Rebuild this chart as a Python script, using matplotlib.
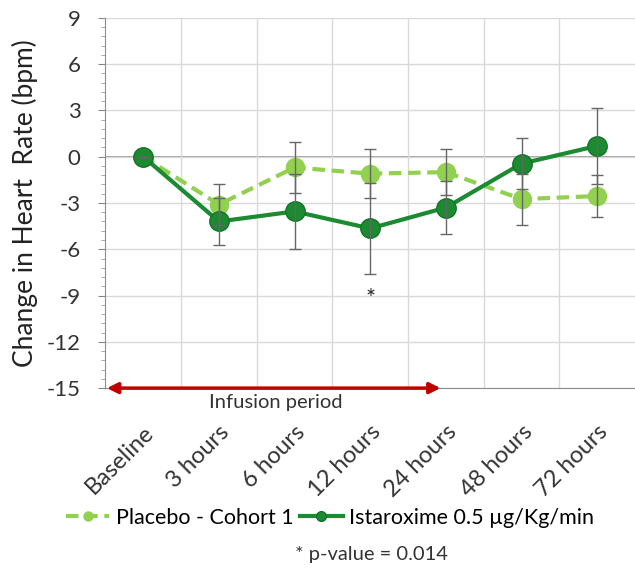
import matplotlib.pyplot as plt
from matplotlib.ticker import AutoMinorLocator
import numpy as np

plt.rcParams['font.family'] = ['Lato', 'DejaVu Sans']

timepoints = ["Baseline", "3 hours", "6 hours", "12 hours", "24 hours", "48 hours", "72 hours"]

placebo = [0, -3.1, -0.7, -1.1, -1.0, -2.75, -2.55]
placebo_err = [0, 1.3, 1.65, 1.6, 1.5, 1.65, 1.35]

istaroxime = [0, -4.2, -3.55, -4.65, -3.3, -0.45, 0.7]
istaroxime_err = [0, 1.55, 2.45, 2.95, 1.7, 1.65, 2.45]

light_green = "#92D050"
dark_green = "#1B8A30"

fig = plt.figure(figsize=(6.35, 5.75), dpi=100)
ax = fig.add_axes([0.166, 0.325, 0.834, 0.644])

x = np.arange(len(timepoints))

ax.plot(x, placebo, color=light_green, lw=3, ls=(0, (3, 1.6)), marker="o",
        ms=13, zorder=3, label="Placebo - Cohort 1")
ax.plot(x, istaroxime, color=dark_green, lw=3, marker="o", ms=14,
        mec="#15742a", zorder=4, label="Istaroxime 0.5 µg/Kg/min")

ax.errorbar(x, placebo, yerr=placebo_err, fmt="none", ecolor="#666666",
            elinewidth=1, capsize=4, capthick=1, zorder=5)
ax.errorbar(x, istaroxime, yerr=istaroxime_err, fmt="none", ecolor="#666666",
            elinewidth=1, capsize=4, capthick=1, zorder=5)

# significance marker at 12 hours
ax.text(3, -9.2, "*", ha="center", va="center", fontsize=17, color="#222222")

ax.set_xlim(-0.5, 6.5)
ax.set_ylim(-15, 9)
ax.yaxis.set_minor_locator(AutoMinorLocator(5))
ax.set_yticks(np.arange(-15, 10, 3))
ax.set_yticklabels([str(v) for v in range(-15, 10, 3)])
ax.set_xticks(x)
ax.set_xticklabels(timepoints, rotation=45, ha="right", rotation_mode="anchor")
ax.tick_params(axis="x", length=0, pad=24, labelsize=17, colors="#333333")
ax.tick_params(axis="y", which="major", length=5, width=0.8, color="#888888",
               labelsize=16, colors="#333333", pad=13)
ax.tick_params(axis="y", which="minor", length=3, width=0.6, color="#999999")
ax.set_xticks(x[:-1] + 0.5, minor=True)
ax.tick_params(axis="x", which="minor", length=0)

ax.grid(axis="y", which="major", color="#d9d9d9", lw=1, zorder=0)
ax.grid(axis="x", which="minor", color="#d9d9d9", lw=1, zorder=0)
ax.axhline(0, color="#8c8c8c", lw=1.2, zorder=1)

for side in ["top", "right"]:
    ax.spines[side].set_visible(False)
ax.spines["left"].set_color("#8c8c8c")
ax.spines["bottom"].set_color("#8c8c8c")

ax.set_ylabel("Change in Heart  Rate (bpm)", fontsize=19, color="#222222")
ax.yaxis.set_label_coords(-0.128, 0.5)

# infusion period arrow
ax.annotate("", xy=(3.93, -15), xytext=(-0.48, -15),
            arrowprops=dict(arrowstyle="<|-|>", color="#C00000", lw=2.5,
                            mutation_scale=16, shrinkA=0, shrinkB=0),
            annotation_clip=False, zorder=6)
ax.text(1.75, -15.4, "Infusion period", ha="center", va="top", fontsize=14.5,
        color="#333333")

fig.legend(loc="center", bbox_to_anchor=(0.52, 0.1), ncol=2, frameon=False,
           fontsize=15.5, handlelength=2.0, columnspacing=0.3, handletextpad=0.3,
           markerscale=0.5)
fig.text(0.585, 0.035, "* p-value = 0.014", ha="center", va="center", fontsize=14.5,
         color="#333333")

fig.savefig("out.png", dpi=100)
